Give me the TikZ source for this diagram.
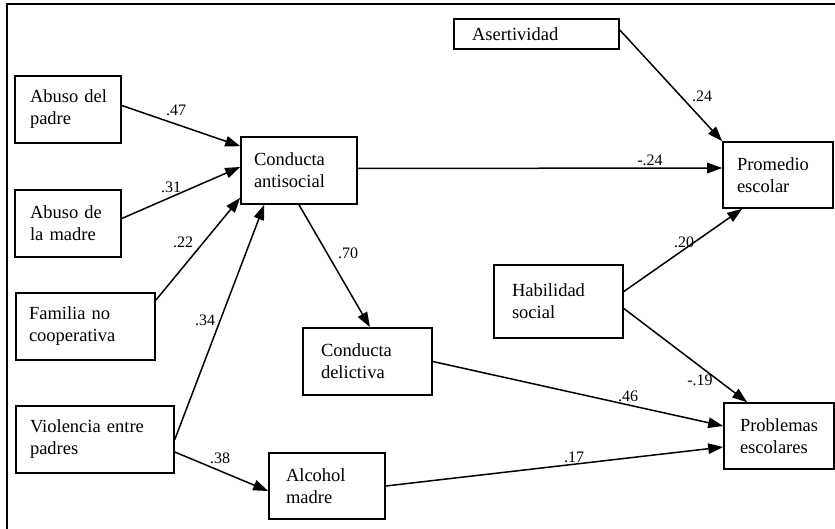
\documentclass[tikz,border=0pt]{standalone}
\usepackage{fontspec}
\setmainfont{Liberation Serif}
\usetikzlibrary{arrows.meta,calc}
\begin{document}
\begin{tikzpicture}[x=1pt,y=-1pt,
 box/.style={draw=black, line width=1.6pt, align=left, inner ysep=0pt,
   font=\fontsize{18.5}{22}\selectfont, minimum height=67pt, anchor=center},
 lbl/.style={font=\fontsize{16}{18}\selectfont, inner sep=0pt},
 conn/.style={line width=1.5pt, -{Triangle[length=15pt,width=10.5pt]}},
 frame/.style={line width=1.6pt}]
\useasboundingbox (0,0) rectangle (835,529);
% frame
\draw[frame] (7,529) -- (7,4) -- (835,4);
% boxes
\node[box, text width=76pt, inner xsep=15pt] (ap) at (68,109.5) {Abuso~del\\padre};
\node[box, text width=76pt, inner xsep=15pt] (am) at (68,223.5) {Abuso~de\\la~madre};
\node[box, text width=90pt, inner xsep=13pt] (ca) at (299,170.5) {Conducta\\antisocial};
\node[box, text width=113pt, inner xsep=13pt] (fc) at (85.5,326.5) {Familia~no\\cooperativa};
\node[box, text width=130pt, inner xsep=14pt] (vp) at (95,439.5) {Violencia~entre\\padres};
\node[box, text width=93pt, inner xsep=18pt] (cd) at (367.5,361.5) {Conducta\\delictiva};
\node[box, text width=82pt, inner xsep=17pt, minimum height=66pt] (al) at (327,486) {Alcohol\\madre};
\node[box, text width=129pt, inner xsep=18pt, minimum height=30pt] (as) at (536.5,34) {Asertividad};
\node[box, text width=82pt, inner xsep=14pt, minimum height=66pt] (pe) at (778,175) {Promedio\\escolar};
\node[box, text width=93pt, inner xsep=18pt, minimum height=73pt] (hs) at (558.5,301.5) {Habilidad\\social};
\node[box, text width=78pt, inner xsep=16pt, minimum height=66pt] (pr) at (779,436) {Problemas\\escolares};
% connectors
\draw[conn] ($(ap.east)+(0,-4)$) -- ($(ca.north west)+(0,10)$);
\draw[conn] ($(am.east)+(0,-5)$) -- ($(ca.west)+(0,-3.5)$);
\draw[conn] ($(fc.north east)+(0,8)$) -- ($(ca.south west)+(0,-7)$);
\draw[conn] (vp.east) -- ($(ca.south west)+(24,0)$);
\draw[conn] (ca.south) -- ($(cd.north)+(2.5,0)$);
\draw[conn] ($(ca.east)+(0,-2)$) -- ($(pe.west)+(0,-7)$);
\draw[conn] ($(as.east)+(0,-4)$) -- (pe.north west);
\draw[conn] ($(hs.east)+(0,-10)$) -- ($(pe.south west)+(20,0)$);
\draw[conn] ($(hs.east)+(0,7)$) -- ($(pr.north west)+(24,0)$);
\draw[conn] (cd.east) -- ($(pr.west)+(0,-10)$);
\draw[conn] (al.east) -- ($(pr.west)+(0,11)$);
\draw[conn] ($(vp.east)+(0,12.5)$) -- ($(al.west)+(0,5)$);
% labels
\node[lbl] (l1) at (176,110.5) {.47};
\node[lbl] (l2) at (171,187) {.31};
\node[lbl] (l3) at (183,242) {.22};
\node[lbl] (l4) at (205,320) {.34};
\node[lbl] (l5) at (348,253) {.70};
\node[lbl] (l6) at (650,160) {-.24};
\node[lbl] (l7) at (702,96) {.24};
\node[lbl] (l8) at (684,242) {.20};
\node[lbl] (l9) at (700,380) {-.19};
\node[lbl] (l10) at (628,396) {.46};
\node[lbl] (l11) at (574,457) {.17};
\node[lbl] (l12) at (220,458) {.38};
\end{tikzpicture}
\end{document}
